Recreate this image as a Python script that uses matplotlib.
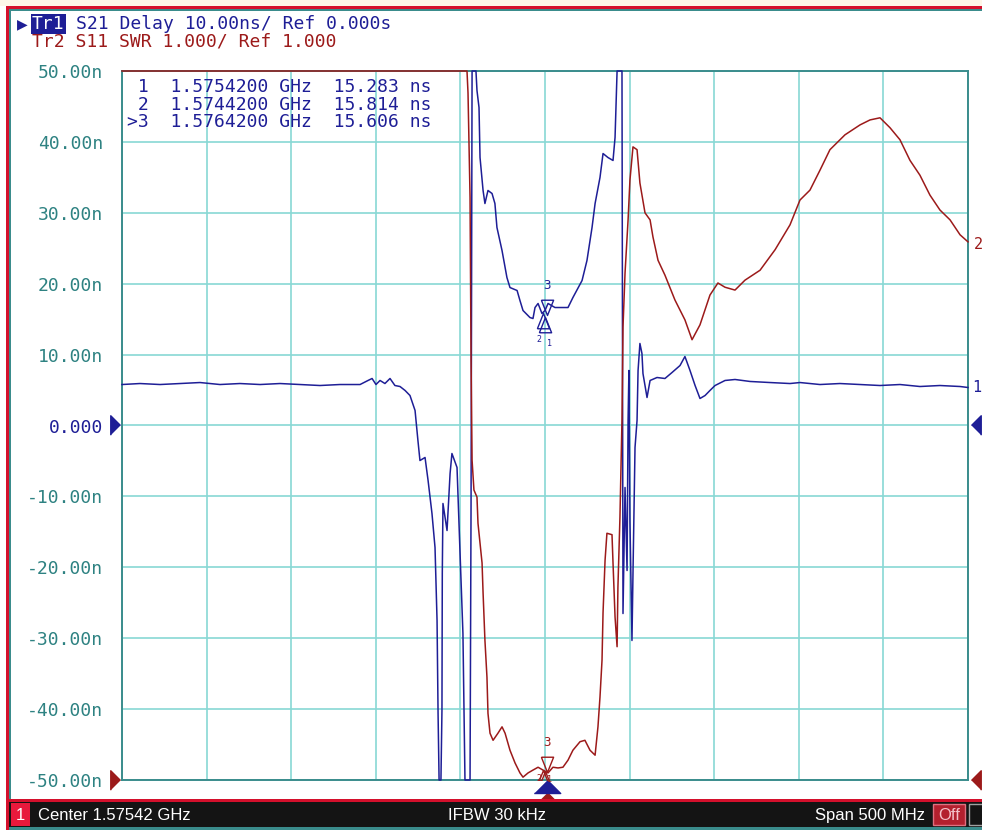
import numpy as np
import matplotlib
matplotlib.use('Agg')
import matplotlib.pyplot as plt
from matplotlib.patches import Rectangle
from matplotlib.transforms import offset_copy

W, H = 982, 830

# Stimulus settings
CENTER_GHZ = 1.57542
SPAN_MHZ = 500
IFBW = 'IFBW 30 kHz'

# Tr1: S21 group delay [ns] against offset from center [MHz]
s21_off_mhz = [-250.0, -239.4, -227.5, -215.7, -203.9, -192.1, -180.3, -168.4, -156.6, -144.8,
               -133.0, -121.2, -109.3, -104.6, -102.2, -99.9, -97.5, -94.6, -91.6, -88.7,
               -85.7, -82.7, -79.8, -76.8, -75.1, -73.9, -70.9, -69.1, -66.8, -65.0,
               -63.8, -63.2, -62.6, -61.5, -60.9, -60.7, -60.3, -57.9, -56.1, -55.0,
               -52.0, -50.2, -48.5, -47.3, -44.3, -43.7, -43.1, -40.8, -40.2, -39.0,
               -38.4, -36.6, -35.5, -33.7, -31.3, -29.6, -28.4, -25.4, -22.5, -20.7,
               -16.5, -14.8, -13.0, -8.9, -7.1, -5.9, -4.1, -1.8, 0.0, 1.8,
               5.9, 10.6, 13.6, 16.5, 21.9, 24.8, 27.8, 29.6, 32.5, 34.3,
               37.2, 40.2, 41.4, 42.6, 45.5, 46.1, 47.3, 48.5, 49.1, 49.6,
               50.2, 51.4, 52.0, 53.2, 54.4, 55.0, 56.1, 57.3, 57.9, 60.3,
               62.1, 66.2, 70.9, 75.1, 79.8, 82.7, 85.7, 88.7, 91.6, 94.6,
               97.5, 100.5, 106.4, 112.3, 121.2, 133.0, 144.8, 150.7, 162.5, 174.3,
               186.2, 198.0, 209.8, 221.6, 233.4, 245.3, 250.0]
s21_delay_ns = [5.78, 5.92, 5.78, 5.92, 6.06, 5.78, 5.92, 5.78, 5.92, 5.78,
                5.64, 5.78, 5.78, 6.35, 6.63, 5.78, 6.35, 5.92, 6.63, 5.64,
                5.50, 4.94, 4.23, 2.12, -2.12, -4.94, -4.51, -7.76, -12.41, -17.21,
                -27.50, -40.62, -50.0, -50.0, -40.20, -20.87, -11.00, -14.81, -6.77, -3.95,
                -5.92, -18.05, -29.34, -50.0, -50.0, -10.58, 50.0, 50.0, 47.25, 44.85,
                37.80, 33.15, 31.31, 33.15, 32.72, 31.31, 27.93, 24.68, 20.87, 19.46,
                19.04, 17.63, 16.22, 15.23, 15.09, 16.64, 17.21, 15.80, 16.22, 17.21,
                16.64, 16.64, 16.64, 18.05, 20.45, 23.27, 27.93, 31.31, 34.98, 38.36,
                37.80, 37.38, 40.62, 50.0, 50.0, -26.52, -8.74, -20.45, 0.71, 7.76,
                -13.40, -30.32, -20.87, -3.10, 0.71, 7.76, 11.57, 10.16, 7.33, 3.95,
                6.35, 6.77, 6.63, 7.48, 8.46, 9.73, 7.76, 5.64, 3.81, 4.23,
                4.94, 5.64, 6.35, 6.49, 6.21, 6.06, 5.92, 6.06, 5.78, 5.92,
                5.78, 5.64, 5.78, 5.50, 5.64, 5.50, 5.36]

# Tr2: S11 SWR against offset from center [MHz]
s11_off_mhz = [-250.0, -46.1, -45.5, -44.3, -43.7, -43.1, -42.0, -40.2, -39.6, -38.4,
               -37.2, -36.6, -35.5, -34.3, -33.7, -32.5, -30.7, -27.8, -25.4, -23.6,
               -20.7, -17.7, -14.8, -13.0, -10.0, -7.1, -4.1, -1.2, 1.8, 4.7,
               7.7, 10.6, 13.6, 16.5, 20.7, 23.6, 26.6, 29.6, 31.3, 32.5,
               33.7, 34.3, 35.5, 36.6, 39.6, 40.2, 41.4, 42.6, 43.1, 44.3,
               45.5, 46.1, 47.3, 49.1, 50.2, 52.0, 54.4, 56.1, 59.1, 62.1,
               63.8, 66.8, 70.9, 76.8, 82.7, 86.9, 91.6, 97.5, 102.2, 106.4,
               112.3, 118.2, 127.1, 136.0, 144.8, 150.7, 156.6, 162.5, 168.4, 177.3,
               186.2, 192.1, 198.0, 203.9, 209.8, 215.7, 221.6, 227.5, 233.4, 239.4,
               245.3, 250.0]
s11_swr = [11.0, 11.0, 10.69, 9.22, 6.92, 5.51, 5.09, 4.99, 4.62, 4.34,
           4.06, 3.64, 2.97, 2.45, 1.94, 1.66, 1.56, 1.66, 1.75, 1.66,
           1.42, 1.24, 1.10, 1.04, 1.10, 1.14, 1.18, 1.14, 1.10, 1.18,
           1.17, 1.18, 1.28, 1.42, 1.54, 1.56, 1.42, 1.35, 1.75, 2.17,
           2.69, 3.36, 4.10, 4.48, 4.46, 4.06, 3.30, 2.88, 3.72, 4.71,
           6.08, 7.39, 8.15, 8.90, 9.46, 9.93, 9.89, 9.42, 9.00, 8.90,
           8.66, 8.33, 8.12, 7.77, 7.49, 7.21, 7.42, 7.84, 8.01, 7.95,
           7.91, 8.05, 8.19, 8.48, 8.83, 9.18, 9.32, 9.60, 9.89, 10.10,
           10.24, 10.31, 10.34, 10.20, 10.03, 9.74, 9.53, 9.25, 9.04, 8.90,
           8.69, 8.59]

# Marker table
marker_names = [' 1', ' 2', '>3']
marker_off_mhz = [0.0, -1.0, 1.0]
marker_delay_ns = [15.283, 15.814, 15.606]

# Colours
NAVY = '#1e1e96'
DRED = '#9c1a1a'
GRID = '#88d8d4'
FRAME = '#3a8c8c'
TEAL_TXT = '#2e8282'
MONO = 'DejaVu Sans Mono'

fig = plt.figure(figsize=(W / 100, H / 100), dpi=100, facecolor='white')


def px_rect(x, y, w, h, **kw):
    fig.add_artist(Rectangle((x / W, 1 - (y + h) / H), w / W, h / H,
                             transform=fig.transFigure, **kw))


def px_text(x, y, s, **kw):
    return fig.text(x / W, 1 - y / H, s, **kw)


# window frame
px_rect(0, 0, W, 6, facecolor='#fdf6e8', edgecolor='none')
px_rect(6, 6, W - 6, 3, facecolor='#d4102c', edgecolor='none')
px_rect(6, 6, 3, H - 6, facecolor='#d4102c', edgecolor='none')
px_rect(9, 9, W - 9, 2, facecolor=FRAME, edgecolor='none')
px_rect(9, 9, 2, 790, facecolor=FRAME, edgecolor='none')

# channel status bar
px_rect(9, 799, W - 9, 3, facecolor='#d4102c', edgecolor='none')
px_rect(9, 802, W - 9, 25, facecolor='#141414', edgecolor='none')
px_rect(9, 827, W - 9, 3, facecolor=FRAME, edgecolor='none')
px_rect(11, 803, 19, 23, facecolor='#e8193c', edgecolor='none')
px_rect(933, 804, 32, 21, facecolor='#b3202e', edgecolor='#e07080', lw=1)
px_rect(969, 804, 20, 21, facecolor='#141414', edgecolor='#a0a0a0', lw=1)
px_text(20, 815, '1', color='white', fontsize=12, family='Liberation Sans',
        ha='center', va='center')
px_text(38, 815, f'Center {CENTER_GHZ:.5f} GHz', color='white', fontsize=12,
        family='Liberation Sans', va='center')
px_text(497, 815, IFBW, color='white', fontsize=12, family='Liberation Sans',
        ha='center', va='center')
px_text(925, 815, f'Span {SPAN_MHZ} MHz', color='white', fontsize=12,
        family='Liberation Sans', ha='right', va='center')
px_text(949, 815, 'Off', color='#f4c0c8', fontsize=12, family='Liberation Sans',
        ha='center', va='center')

# trace status lines
px_text(17, 24, '\u25b6', color=NAVY, fontsize=10, va='center')
px_text(32, 24, 'Tr1', color='white', fontsize=13, family=MONO, va='center',
        bbox=dict(boxstyle='square,pad=0.08', facecolor=NAVY, edgecolor='none'))
px_text(76, 24, 'S21 Delay 10.00ns/ Ref 0.000s', color=NAVY, fontsize=13,
        family=MONO, va='center')
px_text(32, 42, 'Tr2 S11 SWR 1.000/ Ref 1.000', color=DRED, fontsize=13,
        family=MONO, va='center')

# main grid
ax = fig.add_axes([122 / W, 1 - 780 / H, (968 - 122) / W, (780 - 71) / H])
ax.set_xlim(-SPAN_MHZ / 2, SPAN_MHZ / 2)
ax.set_ylim(-50, 50)
ax.set_xticks(np.arange(-250, 251, 50))
ax.set_xticklabels([])
yt = np.arange(-50, 51, 10)
ax.set_yticks(yt)
ax.set_yticklabels(['0.000' if v == 0 else f'{v:.2f}n' for v in yt])
ax.tick_params(length=0, pad=13.5, labelsize=13, labelcolor=TEAL_TXT)
for lab in ax.get_yticklabels():
    lab.set_family(MONO)
    if lab.get_text() == '0.000':
        lab.set_color(NAVY)
ax.grid(True, color=GRID, lw=1.2)
ax.set_axisbelow(True)
for sp in ax.spines.values():
    sp.set_color(FRAME)
    sp.set_linewidth(1.4)

ax2 = ax.twinx()
ax2.set_ylim(1, 11)
ax2.set_yticks([])
for sp in ax2.spines.values():
    sp.set_visible(False)

# traces sit inside the limits, so draw them unclipped to keep the edge runs whole
ax2.plot(s11_off_mhz, s11_swr, color=DRED, lw=1.1, zorder=2, clip_on=False)
ax.plot(s21_off_mhz, s21_delay_ns, color=NAVY, lw=1.1, zorder=3, clip_on=False)

# trace end labels
ax.annotate('1', (s21_off_mhz[-1], s21_delay_ns[-1]), xytext=(3, 0),
            textcoords='offset points', color=NAVY, fontsize=11, family=MONO,
            va='center', annotation_clip=False)
ax2.annotate('2', (s11_off_mhz[-1], s11_swr[-1]), xytext=(4, -2),
             textcoords='offset points', color=DRED, fontsize=11, family=MONO,
             va='center', annotation_clip=False)

# trace markers: active one above the trace, the others below
down_tri = [(-0.4, 1), (0.4, 1), (0, 0), (-0.4, 1)]
up_tri = [(-0.4, -1), (0.4, -1), (0, 0), (-0.4, -1)]
s11_marker_swr = np.interp(marker_off_mhz, s11_off_mhz, s11_swr)
for a, vals, col, lab_dy in [(ax, marker_delay_ns, NAVY, -19),
                             (ax2, s11_marker_swr, DRED, -6)]:
    for name, mx, my in zip(marker_names, marker_off_mhz, vals):
        num = name.strip('> ')
        if name.startswith('>'):
            a.plot([mx], [my], marker=down_tri, ms=22, mfc='none', mec=col, mew=1.0)
            a.annotate(num, (mx, my), xytext=(0, 21), textcoords='offset points',
                       color=col, fontsize=9, family=MONO, ha='center', va='center')
        else:
            a.plot([mx], [my], marker=up_tri, ms=22, mfc='none', mec=col, mew=1.0)
            dx = -3.5 if mx < 0 else 3.5
            a.annotate(num, (mx, my), xytext=(dx, lab_dy),
                       textcoords='offset points', color=col, fontsize=6,
                       family=MONO, ha='center', va='center')

# marker table
for i, (name, mx, my) in enumerate(zip(marker_names, marker_off_mhz, marker_delay_ns)):
    f = CENTER_GHZ + mx / 1000
    px_text(127, 87 + i * 17.5, f'{name}  {f:.7f} GHz  {my:.3f} ns', color=NAVY,
            fontsize=13, family=MONO, va='center')

# reference level and stimulus markers
ref_left = [(-1, -1), (-1, 1), (0, 0)]
ref_right = [(1, -1), (1, 1), (0, 0)]
tl = offset_copy(ax.transData, fig=fig, x=-2, y=0, units='dots')
tr = offset_copy(ax.transData, fig=fig, x=3, y=0, units='dots')
for yv, col in [(0, NAVY), (-50, DRED)]:
    ax.plot([-250], [yv], marker=ref_left, ms=14, color=col, transform=tl, clip_on=False)
    ax.plot([250], [yv], marker=ref_right, ms=14, color=col, transform=tr, clip_on=False)

stim = [(-1, 0), (1, 0), (0, 1)]
ts_r = offset_copy(ax.transData, fig=fig, x=0, y=-20, units='dots')
ts_b = offset_copy(ax.transData, fig=fig, x=0, y=-13, units='dots')
ax.plot([marker_off_mhz[2]], [-50], marker=stim, ms=11, color=DRED,
        transform=ts_r, clip_on=False)
ax.plot([marker_off_mhz[2]], [-50], marker=stim, ms=19, color=NAVY,
        transform=ts_b, clip_on=False)

plt.savefig('out.png', dpi=100, facecolor='white')
